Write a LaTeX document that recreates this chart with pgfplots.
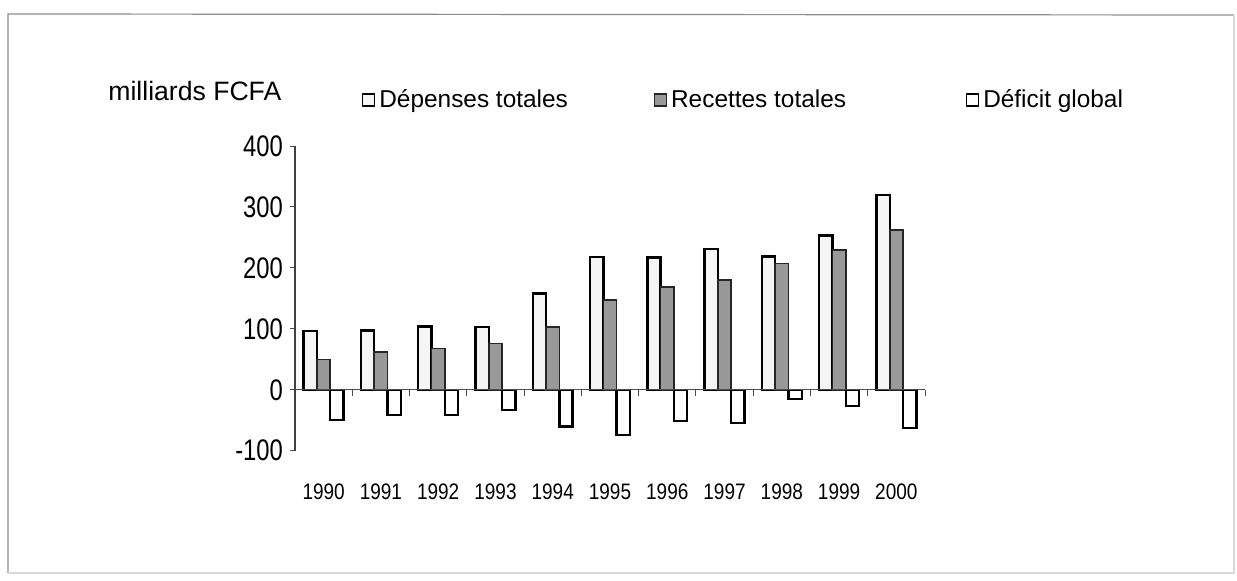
\documentclass[border=0pt]{standalone}
\usepackage{fontspec}
\setmainfont{Liberation Sans}
\usepackage{graphicx}
\usepackage{pgfplots}
\pgfplotsset{compat=1.18}
\begin{document}
\begin{tikzpicture}
\path (0,0) rectangle (618.5pt,290pt);
\draw[black!45, line width=0.6pt] (617pt,282.5pt) -- (4pt,283pt) -- (4pt,3.5pt);
\draw[black!15, line width=0.6pt] (4pt,3.5pt) -- (617pt,3.5pt) -- (617pt,282.5pt);
\begin{axis}[
  at={(147.5pt,64.65pt)}, anchor=south west,
  scale only axis, width=315pt, height=152.35pt,
  xmin=-0.5, xmax=10.5, ymin=-100, ymax=400,
  clip=false,
  ybar=0pt, bar width=6.65pt,
  axis y line*=left, axis x line*=bottom,
  x axis line style={draw=none},
  y axis line style={black!75, line width=0.6pt},
  xtick={0,1,2,3,4,5,6,7,8,9,10},
  xticklabels={\scalebox{1}[1.18]{1990},\scalebox{1}[1.18]{1991},\scalebox{1}[1.18]{1992},\scalebox{1}[1.18]{1993},\scalebox{1}[1.18]{1994},\scalebox{1}[1.18]{1995},\scalebox{1}[1.18]{1996},\scalebox{1}[1.18]{1997},\scalebox{1}[1.18]{1998},\scalebox{1}[1.18]{1999},\scalebox{1}[1.18]{2000}},
  major x tick style={draw=none},
  ytick={-100,0,100,200,300,400},
  yticklabel={\scalebox{1}[1.25]{\pgfmathprintnumber{\tick}}},
  tick align=outside, major tick length=2.5pt,
  major y tick style={black!70, line width=0.5pt},
  /pgf/number format/assume math mode=true,
  yticklabel style={font=\fontsize{11.9}{13}\selectfont},
  xticklabel style={font=\fontsize{9.5}{11}\selectfont, yshift=-10.5pt},
  legend columns=3,
  legend cell align=left,
  legend image code/.code={\draw[#1, line width=0.6pt] (0pt,-3pt) rectangle (6pt,3pt);},
  legend style={at={(0.106,1.151)}, anchor=west, draw=none, fill=none, inner sep=0pt,
    font=\fontsize{12.2}{14}\selectfont,
    /tikz/column 2/.style={column sep=41pt},
    /tikz/column 4/.style={column sep=58pt}},
]
\addplot[draw=black, line width=1.2pt, fill=black!4] coordinates {
 (0,96) (1,97) (2,104) (3,103) (4,158) (5,218) (6,217) (7,231) (8,219) (9,253) (10,320)};
\addplot[draw=black!85, line width=0.8pt, fill=black!40] coordinates {
 (0,49.5) (1,61.5) (2,67.5) (3,76) (4,103) (5,147) (6,169) (7,180) (8,207) (9,229) (10,262)};
\addplot[draw=black, line width=1.2pt, fill=white] coordinates {
 (0,-49.5) (1,-41) (2,-41) (3,-33) (4,-60) (5,-74) (6,-51) (7,-55) (8,-15) (9,-27) (10,-63)};
\legend{D\'epenses totales, Recettes totales, D\'eficit global}
\draw[black!70, line width=0.6pt] (axis cs:-0.5,0) -- (axis cs:10.5,0);
\pgfplotsinvokeforeach{0.5,1.5,2.5,3.5,4.5,5.5,6.5,7.5,8.5,9.5,10.5}{
  \draw[black!70, line width=0.5pt] (axis cs:#1,0) -- ([yshift=-3pt]axis cs:#1,0);
}
\node[anchor=base east, font=\fontsize{13.3}{15}\selectfont, inner sep=0pt] at (axis description cs:-0.0211,1.151) {milliards FCFA};
\end{axis}
\end{tikzpicture}
\end{document}
